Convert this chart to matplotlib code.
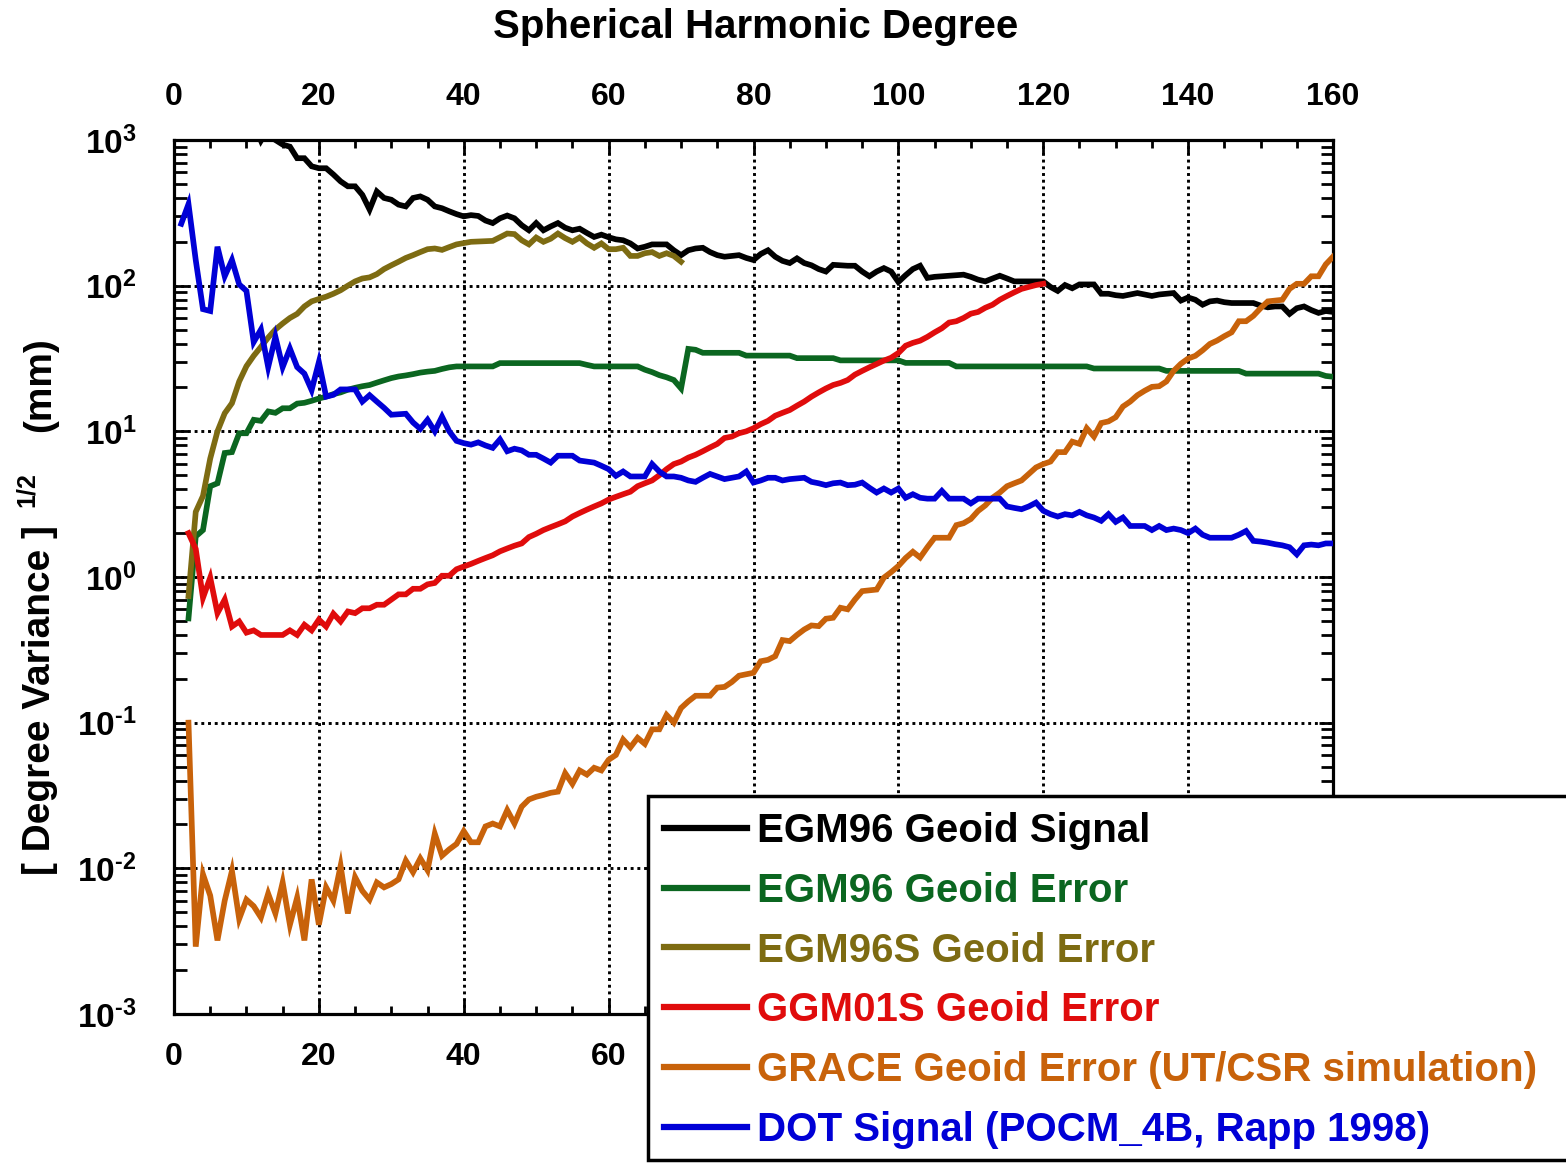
import matplotlib
matplotlib.use("Agg")
import matplotlib.pyplot as plt
from matplotlib.patches import Rectangle
from matplotlib.ticker import MultipleLocator, LogLocator, NullFormatter

plt.rcParams['font.family'] = ['Liberation Sans', 'DejaVu Sans']
plt.rcParams['font.weight'] = 'bold'
plt.rcParams['mathtext.default'] = 'regular'

# ---- data ----
deg_egm96_sig = [2, 5, 8, 10, 11, 12, 13, 14, 15, 16, 17, 18, 19, 20, 21, 22, 23, 24, 25, 26, 27, 28, 29, 30,
                 31, 32, 33, 34, 35, 36, 37, 38, 39, 40, 41, 42, 43, 44, 45, 46, 47, 48, 49, 50, 51, 52, 53, 54,
                 55, 56, 57, 58, 59, 60, 61, 62, 63, 64, 65, 66, 67, 68, 69, 70, 71, 72, 73, 74, 75, 76, 77, 78,
                 79, 80, 81, 82, 83, 84, 85, 86, 87, 88, 89, 90, 91, 92, 93, 94, 95, 96, 97, 98, 99, 100, 101,
                 102, 103, 104, 105, 106, 107, 108, 109, 110, 111, 112, 113, 114, 115, 116, 117, 118, 119, 120,
                 121, 122, 123, 124, 125, 126, 127, 128, 129, 130, 131, 132, 133, 134, 135, 136, 137, 138, 139,
                 140, 141, 142, 143, 144, 145, 146, 147, 148, 149, 150, 151, 152, 153, 154, 155, 156, 157, 158,
                 159, 160]
egm96_sig = [3000, 2500, 1800, 1500, 1300, 990, 1200, 1000, 930, 900, 750, 750, 660, 640, 640, 580, 520, 481,
             481, 420, 333, 443, 400, 389, 360, 350, 400, 410, 389, 350, 340, 324, 310, 299, 305, 301, 280, 269,
             290, 303, 290, 260, 240, 269, 240, 255, 269, 250, 240, 246, 230, 216, 224, 215, 208, 205, 195, 180,
             185, 192, 192, 192, 175, 162, 175, 180, 182, 170, 162, 158, 160, 162, 155, 150, 165, 175, 158, 148,
             143, 154, 143, 138, 130, 125, 139, 138, 137, 137, 125, 116, 125, 132, 125, 106, 118, 130, 137, 113,
             115, 116, 117, 118, 119, 115, 110, 107, 112, 117, 112, 107, 107, 107, 107, 107, 98, 92, 101, 96, 102,
             102, 102, 88, 88, 86, 85, 87, 89, 87, 85, 87, 88, 89, 79, 83, 80, 74, 78, 79, 77, 76, 76, 76, 76, 73,
             71, 72, 72, 64, 70, 72, 68, 65, 67, 66]

deg_egm96_err = [2, 3, 4, 5, 6, 7, 8, 9, 10, 11, 12, 13, 14, 15, 16, 17, 18, 19, 20, 21, 22, 23, 24, 25, 26, 27,
                 28, 29, 30, 31, 32, 33, 34, 35, 36, 37, 38, 39, 44, 45, 56, 57, 58, 64, 65, 66, 67, 68, 69, 70,
                 71, 72, 73, 78, 79, 85, 86, 91, 92, 100, 101, 107, 108, 126, 127, 136, 137, 147, 148, 158, 159,
                 160]
egm96_err = [0.52, 1.9, 2.1, 4.2, 4.4, 7.1, 7.2, 9.7, 9.7, 12, 11.8, 13.7, 13.4, 14.4, 14.4, 15.5, 15.7, 16.2,
             16.8, 17.3, 18.0, 18.5, 19.3, 19.9, 20.4, 20.8, 21.6, 22.4, 23.2, 23.8, 24.2, 24.7, 25.3, 25.7, 26,
             26.8, 27.5, 27.9, 27.9, 29.4, 29.4, 28.6, 27.9, 27.9, 26.5, 25.5, 24.3, 23.5, 22.5, 19.7, 36.8, 36.3,
             34.6, 34.6, 33.1, 33.1, 31.8, 31.8, 30.7, 30.7, 29.5, 29.5, 27.9, 27.9, 27, 27, 26, 26, 24.9, 24.9,
             24, 23.7]

deg_egm96s_err = list(range(2, 71))
egm96s_err = [0.74, 2.8, 3.6, 6.5, 10, 13.3, 15.6, 22, 28, 33, 38, 44, 50, 55, 60, 64, 72, 78, 81, 84, 88, 93,
              100, 107, 112, 114, 120, 130, 138, 146, 155, 162, 170, 178, 180, 176, 184, 192, 196, 200, 201, 202,
              203, 215, 228, 226, 205, 192, 214, 200, 210, 228, 212, 200, 214, 195, 182, 195, 178, 178, 182, 160,
              160, 167, 170, 160, 167, 160, 146]

deg_ggm01s_err = list(range(2, 121))
ggm01s_err = [2.0, 1.56, 0.72, 0.99, 0.565, 0.70, 0.457, 0.495, 0.415, 0.43, 0.40, 0.40, 0.40, 0.40, 0.43, 0.40,
              0.47, 0.43, 0.51, 0.457, 0.56, 0.495, 0.58, 0.565, 0.61, 0.61, 0.645, 0.645, 0.70, 0.76, 0.76,
              0.83, 0.83, 0.89, 0.91, 1.02, 1.02, 1.13, 1.18, 1.23, 1.29, 1.35, 1.41, 1.50, 1.57, 1.64, 1.70,
              1.88, 1.98, 2.1, 2.2, 2.3, 2.41, 2.6, 2.75, 2.9, 3.05, 3.2, 3.4, 3.55, 3.7, 3.85, 4.2, 4.4, 4.6,
              5.0, 5.5, 5.96, 6.2, 6.6, 6.9, 7.3, 7.75, 8.2, 9.0, 9.2, 9.7, 10.0, 10.5, 11.2, 11.8, 12.8, 13.4,
              14.0, 15.0, 16.0, 17.3, 18.5, 19.7, 20.8, 21.5, 22.5, 24.5, 26, 27.5, 29, 30.6, 32, 34.5, 38.7,
              40.5, 41.9, 44.5, 47.8, 51, 55.8, 57, 60, 64.2, 66, 70.5, 74, 80, 85, 90, 95, 98, 101, 103]

deg_grace_err = list(range(2, 161))
grace_err = [0.1, 0.0029, 0.0091, 0.0065, 0.0032, 0.006, 0.0096, 0.0045, 0.0061, 0.0055, 0.0046, 0.0067,
             0.0049, 0.0080, 0.0041, 0.0063, 0.0032, 0.0084, 0.0041, 0.0074, 0.0060, 0.0104, 0.0049, 0.0087,
             0.0070, 0.0061, 0.0080, 0.0074, 0.0078, 0.0084, 0.0113, 0.0094, 0.0117, 0.0097, 0.0173, 0.0122,
             0.0135, 0.0147, 0.018, 0.0151, 0.0151, 0.0194, 0.0203, 0.0194, 0.0251, 0.0203, 0.0265, 0.0297,
             0.031, 0.0319, 0.033, 0.0336, 0.045, 0.038, 0.047, 0.044, 0.049, 0.047, 0.0556, 0.06, 0.0766,
             0.0676, 0.0787, 0.0715, 0.090, 0.09, 0.113, 0.1, 0.126, 0.14, 0.153, 0.153, 0.153, 0.174, 0.176,
             0.19, 0.21, 0.215, 0.22, 0.264, 0.27, 0.286, 0.369, 0.363, 0.40, 0.436, 0.465, 0.46, 0.517, 0.525,
             0.615, 0.6, 0.70, 0.80, 0.81, 0.82, 0.99, 1.08, 1.19, 1.35, 1.49, 1.36, 1.6, 1.86, 1.86, 1.86, 2.27,
             2.34, 2.5, 2.84, 3.1, 3.5, 3.8, 4.2, 4.4, 4.6, 5.1, 5.65, 5.96, 6.2, 7.2, 7.2, 8.5, 8.2, 10.5, 9.2,
             11.4, 11.7, 12.5, 14.8, 16, 17.7, 19, 20.2, 20.4, 22, 26, 29.1, 31.6, 33, 36, 39.8, 42, 45, 47.8,
             57, 57, 62, 70, 78, 79, 80, 95, 103, 103, 116, 116, 140, 158]

deg_dot_sig = list(range(1, 161))
dot_sig = [266, 363, 150, 69, 67, 185, 116, 150, 102, 92, 41, 50, 27.6, 44.6, 27.6, 37, 27.6, 24.9, 19.2, 29.9,
           17.3, 17.8, 19.4, 19.4, 19.4, 16, 17.7, 16, 14.5, 13, 13.1, 13.2, 11.5, 10.4, 12, 10, 12.6, 10, 8.6,
           8.3, 8.1, 8.4, 8.0, 7.7, 8.8, 7.3, 7.6, 7.4, 6.9, 6.9, 6.5, 6.1, 6.8, 6.8, 6.8, 6.3, 6.2, 6.1, 5.8,
           5.5, 4.95, 5.3, 4.9, 4.9, 4.9, 5.96, 5.3, 4.9, 4.9, 4.8, 4.6, 4.5, 4.8, 5.1, 4.9, 4.7, 4.8, 4.9, 5.3,
           4.45, 4.6, 4.8, 4.8, 4.6, 4.7, 4.75, 4.8, 4.5, 4.4, 4.27, 4.4, 4.45, 4.27, 4.3, 4.45, 4.1, 3.8, 4.05,
           3.8, 4.05, 3.5, 3.7, 3.5, 3.45, 3.45, 3.9, 3.45, 3.45, 3.45, 3.2, 3.45, 3.45, 3.45, 3.45, 3.05, 2.98,
           2.92, 3.05, 3.24, 2.85, 2.7, 2.6, 2.7, 2.65, 2.8, 2.65, 2.56, 2.43, 2.7, 2.39, 2.56, 2.24, 2.24, 2.24,
           2.1, 2.24, 2.1, 2.15, 2.1, 2.0, 2.15, 1.95, 1.86, 1.86, 1.86, 1.86, 1.95, 2.07, 1.77, 1.75, 1.72,
           1.68, 1.65, 1.6, 1.43, 1.65, 1.67, 1.65, 1.7, 1.7]

labels = ['EGM96 Geoid Signal', 'EGM96 Geoid Error', 'EGM96S Geoid Error', 'GGM01S Geoid Error',
          'GRACE Geoid Error (UT/CSR simulation)', 'DOT Signal (POCM_4B, Rapp 1998)']
colors = ['#000000', '#0b6620', '#7d6b12', '#e00c0c', '#c8620a', '#0000d6']
x_ticks = [0, 20, 40, 60, 80, 100, 120, 140, 160]
x_top_labels = ['0', '20', '40', '60', '80', '100', '120', '140', '160']
x_bottom_labels = ['0', '20', '40', '60', '', '', '', '', '']   # the rest sit under the legend box
y_ticks = [1e-3, 1e-2, 1e-1, 1e0, 1e1, 1e2, 1e3]
y_ticklabels = ['$10^{\u20103}$', '$10^{\u20102}$', '$10^{\u20101}$', '$10^{0}$', '$10^{1}$', '$10^{2}$',
                '$10^{3}$']

W, H = 1566, 1164
fig = plt.figure(figsize=(W / 100, H / 100), dpi=100)
ax = fig.add_axes([174 / W, 1 - 1014 / H, (1333 - 174) / W, (1014 - 140) / H])

series = [(deg_egm96_sig, egm96_sig), (deg_egm96_err, egm96_err), (deg_egm96s_err, egm96s_err),
          (deg_ggm01s_err, ggm01s_err), (deg_grace_err, grace_err), (deg_dot_sig, dot_sig)]
handles = []
for (xs, ys), lab, c in zip(series, labels, colors):
    h, = ax.plot(xs, ys, color=c, lw=4.1, label=lab, solid_joinstyle='miter', zorder=3)
    handles.append(h)

ax.set_yscale('log')
ax.set_xlim(0, 160)
ax.set_ylim(1e-3, 1e3)
ax.set_xticks(x_ticks, labels=x_bottom_labels)
ax.xaxis.set_minor_locator(MultipleLocator(5))
ax.set_yticks(y_ticks)
ax.set_yticklabels(y_ticklabels, fontsize=24)
ax.yaxis.set_minor_locator(LogLocator(base=10, subs=range(2, 10), numticks=20))
ax.yaxis.set_minor_formatter(NullFormatter())

ax.grid(True, which='major', color='black', lw=2.1, linestyle=(0, (1.0, 1.3)))
for s in ax.spines.values():
    s.set_linewidth(2.3)

ax.tick_params(which='both', direction='in', top=True, right=True, width=2)
ax.tick_params(axis='x', which='major', length=10, labelsize=23, pad=20)
ax.tick_params(axis='x', which='minor', length=6)
ax.tick_params(axis='y', which='major', length=10, pad=27)
ax.tick_params(axis='y', which='minor', length=9)

# labels along the top
top = ax.secondary_xaxis('top')
top.set_xticks(x_ticks, labels=x_top_labels)
top.tick_params(length=0, labelsize=23, pad=20)
top.spines['top'].set_visible(False)

fig.text(756 / W, 1 - 27 / H, 'Spherical Harmonic Degree', fontsize=29, fontweight='bold',
         ha='center', va='center')

# y label in three pieces
fig.text(40 / W, 1 - 700 / H, '[ Degree Variance ]', fontsize=28, fontweight='bold',
         rotation=90, ha='center', va='center')
fig.text(27 / W, 1 - 490 / H, '1/2', fontsize=18, fontweight='bold',
         rotation=90, ha='center', va='center')
fig.text(40 / W, 1 - 385 / H, '(mm)', fontsize=28, fontweight='bold',
         rotation=90, ha='center', va='center')

# legend box sticking out to the right edge
box = Rectangle((648 / W, 1 - 1160 / H), (1580 - 648) / W, (1160 - 796) / H,
                transform=fig.transFigure, facecolor='white', edgecolor='black', lw=2.5, zorder=4)
fig.patches.append(box)
leg = fig.legend(handles=handles, loc='upper left', bbox_to_anchor=(656 / W, 1 - 804 / H),
                 frameon=False, fontsize=29, handlelength=2.05, handletextpad=0.25,
                 labelspacing=0.54, borderpad=0.2, borderaxespad=0)
leg.set_zorder(5)
for t, c in zip(leg.get_texts(), colors):
    t.set_color(c)
    t.set_fontweight('bold')
for lh in leg.legend_handles:
    lh.set_linewidth(4.5)

fig.savefig('out.png', dpi=100)
